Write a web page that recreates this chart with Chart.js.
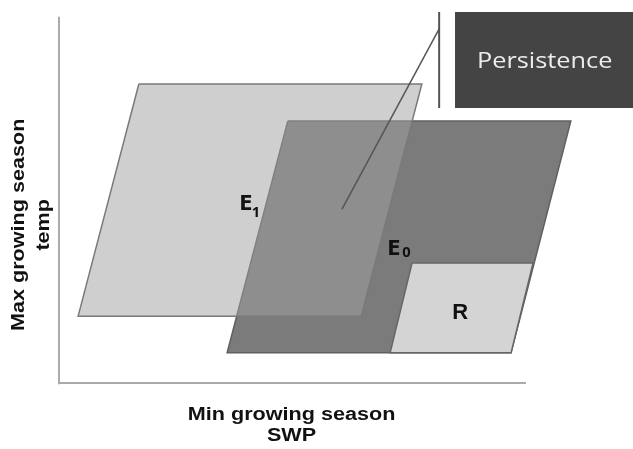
<!DOCTYPE html>
<html>
<head>
<meta charset="utf-8">
<script src="https://cdn.jsdelivr.net/npm/chart.js@4"></script>
<style>
  html, body { margin: 0; padding: 0; background: #fff; }
</style>
</head>
<body>
<canvas id="chart" width="633" height="449"></canvas>
<script>
// niche space: x = min growing season SWP, y = max growing season temp (arbitrary units)
const e1X = [1.71, 7.77, 6.47, 0.41, 1.71];
const e1Y = [7.43, 7.43, 1.66, 1.66, 7.43];
const e0X = [4.90, 10.96, 9.68, 3.60, 4.90];
const e0Y = [6.51, 6.51, 0.75, 0.75, 6.51];
const rX = [7.56, 10.15, 9.68, 7.09, 7.56];
const rY = [2.98, 2.98, 0.75, 0.75, 2.98];
const boxX = [8.48, 12.4, 12.4, 8.48, 8.48];
const boxY = [9.22, 9.22, 6.83, 6.83, 9.22];
const barX = [8.14, 8.14];
const barY = [9.22, 6.83];
const pointerX = [8.14, 6.06];
const pointerY = [8.80, 4.32];
const xAxisX = [0, 10];
const xAxisY = [0, 0];
const yAxisX = [0, 0];
const yAxisY = [-0.03, 9.1];

const zip = (xs, ys) => xs.map((x, i) => ({ x, y: ys[i] }));

// text anchors in data units
const labels = [
  { text: "Persistence", x: 10.40, y: 7.83, font: "22px 'Open Sans'", color: "#ececec", stretch: 1.15 },
  { text: "E", x: 4.00, y: 4.30, font: "bold 21px 'Open Sans'", color: "#111", stretch: 1.15 },
  { text: "1", x: 4.22, y: 4.12, font: "bold 14px 'Open Sans'", color: "#111", stretch: 1.05 },
  { text: "E", x: 7.17, y: 3.18, font: "bold 21px 'Open Sans'", color: "#111", stretch: 1.15 },
  { text: "0", x: 7.44, y: 3.13, font: "bold 14px 'Open Sans'", color: "#111", stretch: 1.05 },
  { text: "R", x: 8.59, y: 1.59, font: "bold 22px 'Liberation Sans'", color: "#111", stretch: 1.0 },
  { text: "Min growing season", x: 4.98, y: -0.92, font: "bold 18px 'Liberation Sans'", color: "#111", stretch: 1.2 },
  { text: "SWP", x: 4.98, y: -1.44, font: "bold 18px 'Liberation Sans'", color: "#111", stretch: 1.2 },
  { text: "Max growing season", x: -0.75, y: 3.93, font: "bold 18px 'Liberation Sans'", color: "#111", stretch: 1.2, rotate: true },
  { text: "temp", x: -0.21, y: 3.93, font: "bold 18px 'Liberation Sans'", color: "#111", stretch: 1.2, rotate: true },
];

const textPlugin = {
  id: "textLabels",
  afterDatasetsDraw(chart) {
    const { ctx } = chart;
    const xs = chart.scales.x;
    const ys = chart.scales.y;
    labels.forEach((l) => {
      ctx.save();
      ctx.translate(xs.getPixelForValue(l.x), ys.getPixelForValue(l.y));
      if (l.rotate) ctx.rotate(-Math.PI / 2);
      ctx.scale(l.stretch, 1);
      ctx.font = l.font;
      ctx.fillStyle = l.color;
      ctx.textAlign = "center";
      ctx.textBaseline = "alphabetic";
      ctx.fillText(l.text, 0, 0);
      ctx.restore();
    });
  },
};

const shape = (data, fillColor, borderColor, borderWidth, order) => ({
  data,
  showLine: true,
  fill: fillColor ? "shape" : false,
  backgroundColor: fillColor || "transparent",
  borderColor,
  borderWidth,
  borderJoinStyle: "miter",
  pointRadius: 0,
  tension: 0,
  order,
});

new Chart(document.getElementById("chart"), {
  type: "scatter",
  data: {
    datasets: [
      shape(zip(pointerX, pointerY), null, "#555", 1.5, 0),
      shape(zip(barX, barY), null, "#555", 2, 0),
      shape(zip(boxX, boxY), "#444444", "#444444", 0, 1),
      shape(zip(e1X, e1Y), "rgba(161,161,161,0.51)", "#7a7a7a", 1.5, 2),
      shape(zip(rX, rY), "#d4d4d4", "#666", 1.5, 3),
      shape(zip(e0X, e0Y), "#7b7b7b", "#606060", 1.5, 4),
      shape(zip(xAxisX, xAxisY), null, "#aaaaaa", 2, 5),
      shape(zip(yAxisX, yAxisY), null, "#aaaaaa", 2, 5),
    ],
  },
  options: {
    responsive: false,
    animation: false,
    layout: { padding: 0 },
    plugins: { legend: { display: false }, tooltip: { enabled: false } },
    scales: {
      x: { type: "linear", display: false, min: -1.263, max: 12.291 },
      y: { type: "linear", display: false, min: -1.64, max: 9.516 },
    },
  },
  plugins: [textPlugin],
});
</script>
</body>
</html>
